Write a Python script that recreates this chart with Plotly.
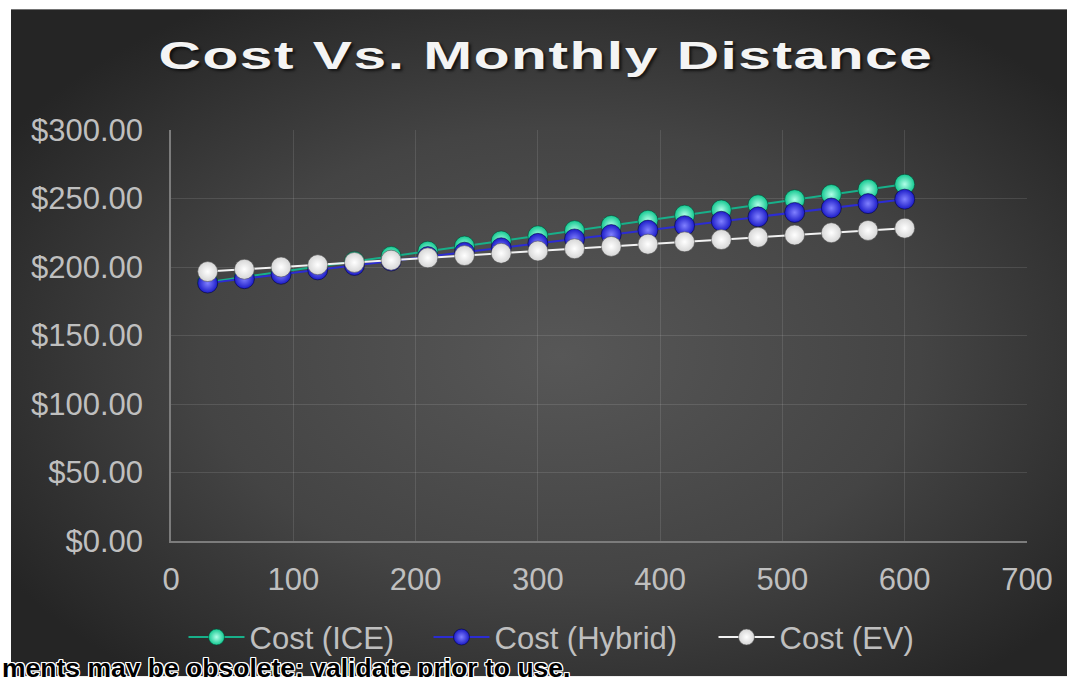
import base64
import plotly.graph_objects as go

# ---------------- data ----------------
distance = [30, 60, 90, 120, 150, 180, 210, 240, 270, 300,
            330, 360, 390, 420, 450, 480, 510, 540, 570, 600]
cost_ice = [188.96, 192.72, 196.49, 200.25, 204.01, 207.77, 211.53, 215.30, 219.06, 222.82,
            226.58, 230.34, 234.11, 237.87, 241.63, 245.39, 249.15, 252.92, 256.68, 260.44]
cost_hybrid = [188.23, 191.45, 194.68, 197.90, 201.13, 204.35, 207.58, 210.80, 214.03, 217.25,
               220.48, 223.70, 226.93, 230.15, 233.38, 236.60, 239.83, 243.05, 246.28, 249.50]
cost_ev = [196.67, 198.34, 200.00, 201.67, 203.34, 205.01, 206.68, 208.34, 210.01, 211.68,
           213.35, 215.02, 216.68, 218.35, 220.02, 221.69, 223.36, 225.02, 226.69, 228.36]
series_names = ["Cost (ICE)", "Cost (Hybrid)", "Cost (EV)"]
title_text = "Cost Vs. Monthly Distance"
footer_text = "ments may be obsolete; validate prior to use."

# ---------------- layout geometry (figure pinned at page 0,0) ----------------
W, H = 1067, 677
L, T = 171, 130
R = W - 1027
B = H - 541.5
PW = W - L - R
PH = H - T - B


def px_x(p):   # page x -> paper x
    return (p - L) / PW


def px_y(p):   # page y -> paper y
    return (H - B - p) / PH


FONT = "Liberation Sans, Arial, sans-serif"
TXT = "#bfbfbf"

svg = (
    '<svg xmlns="http://www.w3.org/2000/svg" width="1056" height="668" '
    'viewBox="0 0 1056 668" preserveAspectRatio="none">'
    '<defs><radialGradient id="g" cx="52%" cy="52%" r="62%">'
    '<stop offset="0" stop-color="#575757"/>'
    '<stop offset="0.55" stop-color="#444444"/>'
    '<stop offset="1" stop-color="#252525"/>'
    '</radialGradient></defs>'
    '<rect width="1056" height="668" fill="url(#g)"/></svg>'
)
bg_uri = "data:image/svg+xml;base64," + base64.b64encode(svg.encode()).decode()

styles = [
    dict(line="#18b08a", marker="#13c890", center="#b0ffe8", edge="rgba(0,70,50,0.55)", lw=174),
    dict(line="#2c2cd2", marker="#1c1cc8", center="#8080ff", edge="rgba(0,0,60,0.55)", lw=214),
    dict(line="#f2f2f2", marker="#d6d6d6", center="#ffffff", edge="rgba(80,80,80,0.55)", lw=140),
]
series = [cost_ice, cost_hybrid, cost_ev]

fig = go.Figure()
for name, ys, st in zip(series_names, series, styles):
    fig.add_trace(go.Scatter(
        x=distance, y=ys, name=name, mode="lines+markers",
        line=dict(color=st["line"], width=2),
        marker=dict(size=20, color=st["marker"],
                    gradient=dict(type="radial", color=st["center"]),
                    line=dict(width=1, color=st["edge"])),
        legendwidth=st["lw"],
    ))

axis_common = dict(
    showgrid=True, gridcolor="rgba(255,255,255,0.11)", gridwidth=1,
    showline=True, linecolor="#7c7c7c", linewidth=1.5,
    zeroline=False, ticks="",
    tickfont=dict(family=FONT, size=31, color=TXT),
)

fig.update_layout(
    width=W, height=H, autosize=False,
    margin=dict(l=L, r=R, t=T, b=B, pad=0),
    paper_bgcolor="white", plot_bgcolor="rgba(0,0,0,0)",
    font=dict(family=FONT, color=TXT),
    title=dict(
        text=title_text, xref="container", yref="container",
        x=546 / W, xanchor="center", y=1 - 55.5 / H, yanchor="middle",
        font=dict(family=FONT, size=39, color="#f4f4f4", weight="bold",
                  shadow="2px 3px 3px rgba(0,0,0,0.65)"),
    ),
    xaxis=dict(range=[0, 700], tick0=0, dtick=100, ticklabelstandoff=10, **axis_common),
    yaxis=dict(range=[0, 300], tick0=0, dtick=50, tickformat="$.2f",
               ticklabelstandoff=20, **axis_common),
    legend=dict(
        orientation="h", x=px_x(183.5), xanchor="left", y=px_y(638), yanchor="middle",
        font=dict(family=FONT, size=31, color=TXT), bgcolor="rgba(0,0,0,0)",
        itemwidth=56, traceorder="normal",
    ),
    images=[dict(
        source=bg_uri, xref="paper", yref="paper",
        x=px_x(11), y=px_y(9), sizex=(W - 11) / PW, sizey=(H - 9) / PH,
        xanchor="left", yanchor="top", sizing="stretch", layer="below",
    )],
    annotations=[dict(
        text=footer_text, xref="paper", yref="paper",
        x=px_x(0), xanchor="left", y=px_y(669), yanchor="middle",
        showarrow=False,
        font=dict(family=FONT, size=26.5, color="black", weight="bold",
                  shadow="-1px -1px 0 #fff, 1px -1px 0 #fff, -1px 1px 0 #fff, 1px 1px 0 #fff, "
                         "0 1px 0 #fff, 0 -1px 0 #fff, 1px 0 0 #fff, -1px 0 0 #fff"),
    )],
)

post = """
document.documentElement.style.overflow = 'hidden';
document.body.style.margin = '0';
var gd = document.getElementById('{plot_id}');
gd.style.position = 'fixed';
gd.style.left = '0px';
gd.style.top = '0px';
var t = gd.querySelector('.gtitle');
if (t) {
  t.style.letterSpacing = '1px';
  var w = t.getBBox().width;
  t.style.transformBox = 'fill-box';
  t.style.transformOrigin = 'center';
  t.style.transform = 'scaleX(' + (775 / w) + ')';
}
"""

fig.write_html("out.html", config={"displayModeBar": False}, post_script=post)
